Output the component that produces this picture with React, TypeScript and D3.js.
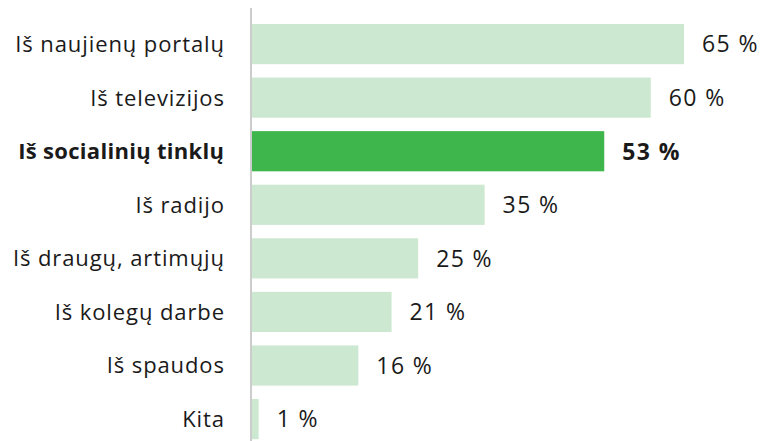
import React from "react";
import * as d3 from "d3";

const categories = [
  "Iš naujienų portalų",
  "Iš televizijos",
  "Iš socialinių tinklų",
  "Iš radijo",
  "Iš draugų, artimųjų",
  "Iš kolegų darbe",
  "Iš spaudos",
  "Kita",
];
const values = [65, 60, 53, 35, 25, 21, 16, 1];
const highlighted = ["Iš socialinių tinklų"];

const W = 764;
const H = 441;
const FONT = "'Open Sans', 'Noto Sans', sans-serif";

export default function App() {
  const axisX = 251;
  const x = d3.scaleLinear().domain([0, 65]).range([axisX + 1, 684]);
  const step = 53.57;
  const y = d3
    .scaleBand<string>()
    .domain(categories)
    .range([24, 24 + step * 7.75])
    .paddingInner(0.25)
    .paddingOuter(0);

  return (
    <svg
      width={W}
      height={H}
      style={{ position: "absolute", left: 0, top: 0, background: "#fff" }}
    >
      {categories.map((c, i) => {
        const hi = highlighted.includes(c);
        const yy = y(c)!;
        const bh = y.bandwidth();
        const ls = hi ? 0.3 : 0.9;
        return (
          <g key={c}>
            <rect
              x={x(0)}
              y={yy}
              width={x(values[i]) - x(0)}
              height={bh}
              fill={hi ? "#3eb64b" : "#cde8d0"}
            />
            <text
              x={224 + ls}
              y={yy + bh / 2}
              dy="0.36em"
              textAnchor="end"
              fontFamily={FONT}
              fontSize={22}
              letterSpacing={ls}
              fontWeight={hi ? 700 : 400}
              fill="#1a1a1a"
            >
              {c}
            </text>
            <text
              x={x(values[i]) + 18}
              y={yy + bh / 2}
              dy="0.36em"
              textAnchor="start"
              fontFamily={FONT}
              fontSize={23}
              letterSpacing={1.4}
              fontWeight={hi ? 700 : 400}
              fill="#1a1a1a"
            >
              {values[i]} %
            </text>
          </g>
        );
      })}
      <line x1={axisX} x2={axisX} y1={8} y2={H} stroke="#cccccc" strokeWidth={2} />
    </svg>
  );
}
